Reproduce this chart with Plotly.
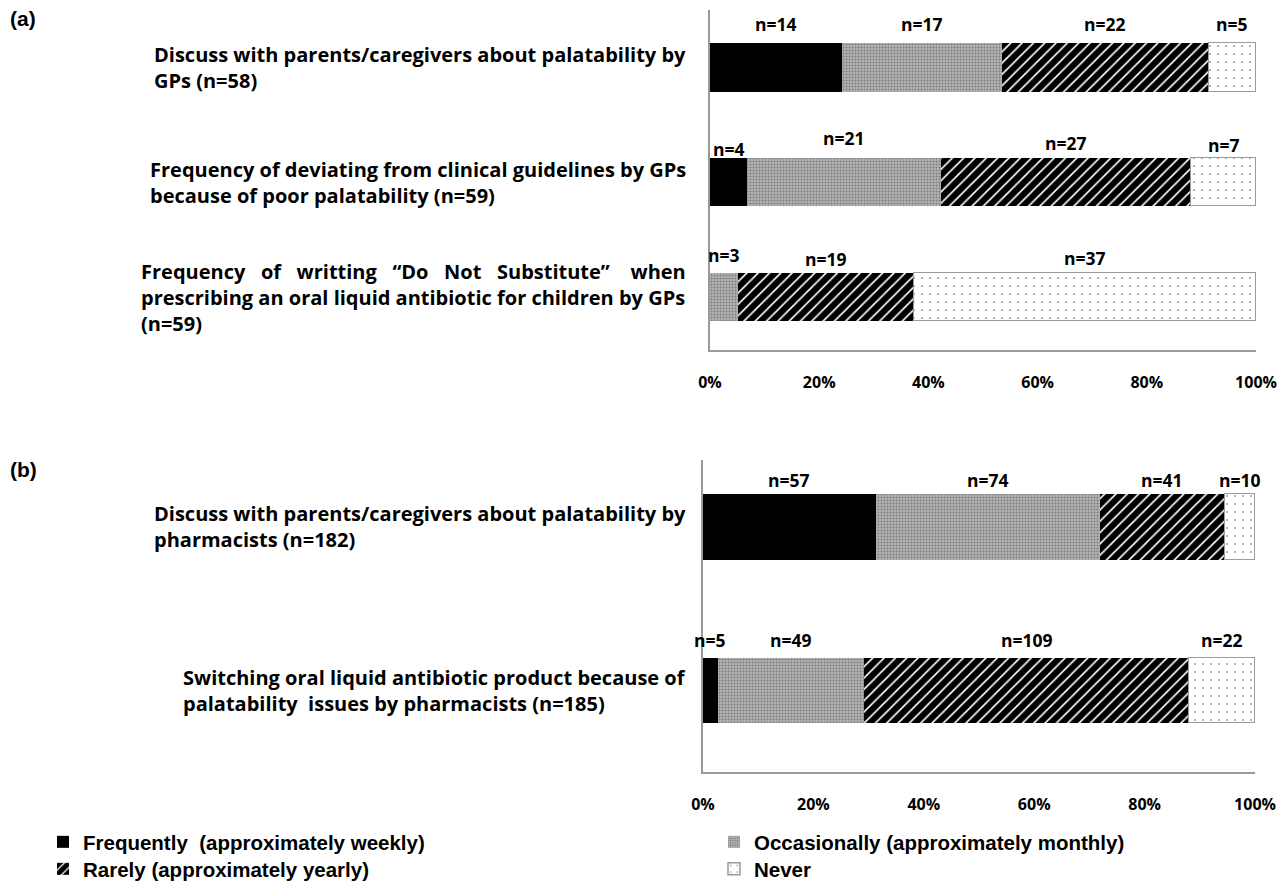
import plotly.graph_objects as go

# ---------------- data ----------------
levels = ["Frequently  (approximately weekly)", "Occasionally (approximately monthly)",
          "Rarely (approximately yearly)", "Never"]

SP = "&nbsp;&nbsp;"
a_items = [
    "Discuss with parents/caregivers about palatability by<br>GPs (n=58)",
    "Frequency of deviating from clinical guidelines by GPs<br>because of poor palatability (n=59)",
    "Frequency " + SP + "of " + SP + "writting " + SP + "“Do " + SP + "Not " + SP + "Substitute” "
    + "&nbsp;" * 3 + "when<br>prescribing an oral liquid antibiotic for children by GPs<br>(n=59)",
]
a_frequently = [14, 4, 0]
a_occasionally = [17, 21, 3]
a_rarely = [22, 27, 19]
a_never = [5, 7, 37]

b_items = [
    "Discuss with parents/caregivers about palatability by<br>pharmacists (n=182)",
    "Switching oral liquid antibiotic product because of<br>palatability&nbsp;&nbsp;issues by pharmacists (n=185)",
]
b_frequently = [57, 5]
b_occasionally = [74, 49]
b_rarely = [41, 109]
b_never = [10, 22]

x_ticks = [0, 20, 40, 60, 80, 100]
x_tick_text = ["0%", "20%", "40%", "60%", "80%", "100%"]

# ---------------- styles ----------------
W, H = 1281, 883
LABEL_FONT = "Open Sans"
LEGEND_FONT = "Liberation Sans"

markers = [
    dict(color="#000000", line=dict(width=0)),
    dict(color="#b0b0b0", line=dict(width=0),
         pattern=dict(shape=".", bgcolor="#b4b4b4", fgcolor="#4a4a4a", size=3, solidity=0.4)),
    dict(color="#000000", line=dict(width=0),
         pattern=dict(shape="/", bgcolor="#ffffff", fgcolor="#000000", fgopacity=1,
                      size=8, solidity=0.8)),
    dict(color="#ffffff", line=dict(width=1.5, color="#9a9a9a"),
         pattern=dict(shape=".", bgcolor="#ffffff", fgcolor="#333333", size=8, solidity=0.05)),
]
# each legend entry gets its own legend box: (legend id, left px, row-centre px)
legend_slots = [("legend", 43, 843), ("legend2", 714, 843), ("legend3", 43, 870), ("legend4", 714, 870)]

# vertical lift (px) of each n= label above its bar top
a_lift = [[19, 19, 19, 19], [9, 20, 15, 13], [0, 18, 14, 15]]
b_lift = [[14, 14, 14, 14], [18, 18, 18, 18]]

fig = go.Figure()
annotations = []

panels = [
    dict(items=a_items, series=[a_frequently, a_occasionally, a_rarely, a_never],
         xa="x", ya="y", lift=a_lift, half=24, width=0.42, show=True),
    dict(items=b_items, series=[b_frequently, b_occasionally, b_rarely, b_never],
         xa="x2", ya="y2", lift=b_lift, half=32.5, width=0.40, show=False),
]

for p in panels:
    totals = [sum(s[i] for s in p["series"]) for i in range(len(p["items"]))]
    pcts = [[v / t * 100 for v, t in zip(s, totals)] for s in p["series"]]
    for k, lev in enumerate(levels):
        fig.add_trace(go.Bar(
            orientation="h", x=pcts[k], y=p["items"], name=lev,
            width=p["width"], marker=markers[k],
            xaxis=p["xa"], yaxis=p["ya"],
            showlegend=p["show"], legend=legend_slots[k][0], hoverinfo="skip",
        ))
    # n= labels
    for i, item in enumerate(p["items"]):
        start = 0.0
        for k in range(4):
            v = p["series"][k][i]
            pc = pcts[k][i]
            if v > 0:
                annotations.append(dict(
                    x=start + pc / 2, y=item, xref=p["xa"], yref=p["ya"],
                    text=f"n={v}", showarrow=False, yanchor="middle",
                    yshift=p["half"] + p["lift"][i][k],
                    font=dict(family=LABEL_FONT, size=17.5, color="black", weight="bold"),
                ))
            start += pc
    # category labels
    for item in p["items"]:
        annotations.append(dict(
            x=688 / W, xref="paper", xanchor="right", align="left",
            y=item, yref=p["ya"], yanchor="middle", text=item, showarrow=False,
            font=dict(family=LABEL_FONT, size=20, color="black", weight="bold"),
        ))

for lab, ypix in (("(a)", 18), ("(b)", 470)):
    annotations.append(dict(x=8 / W, y=1 - ypix / H, xref="paper", yref="paper", xanchor="left",
                            yanchor="middle", text=lab, showarrow=False,
                            font=dict(family=LEGEND_FONT, size=21, color="black", weight="bold")))

xaxis_style = dict(range=[0, 100], tickmode="array", tickvals=x_ticks, ticktext=x_tick_text,
                   showgrid=False, zeroline=False, showline=True, linecolor="#9a9a9a",
                   linewidth=1.5, ticks="", ticklabelstandoff=17, fixedrange=True,
                   automargin=False,
                   tickfont=dict(family=LABEL_FONT, size=16, color="black", weight="bold"))
yaxis_style = dict(type="category", showticklabels=False, showgrid=False, zeroline=False,
                   showline=True, linecolor="#9a9a9a", linewidth=1.5, ticks="", fixedrange=True,
                   automargin=False)

legend_style = dict(orientation="v", xanchor="left", yanchor="top", bgcolor="rgba(0,0,0,0)",
                    traceorder="normal",
                    font=dict(family=LEGEND_FONT, size=20.5, color="black", weight="bold"),
                    tracegroupgap=0, itemclick=False, itemdoubleclick=False)
legends = {lid: dict(x=lx / W, y=1 - (cy - 21) / H, **legend_style) for lid, lx, cy in legend_slots}

fig.update_layout(
    width=W, height=H, margin=dict(l=0, r=0, t=0, b=0, autoexpand=False),
    paper_bgcolor="white", plot_bgcolor="white",
    barmode="stack", bargap=0,
    showlegend=True,
    xaxis=dict(domain=[710 / W, 1256 / W], anchor="y", **xaxis_style),
    yaxis=dict(domain=[1 - 350 / H, 1 - 10 / H], anchor="x", range=[2.46, -0.5], **yaxis_style),
    xaxis2=dict(domain=[703 / W, 1255 / W], anchor="y2", **xaxis_style),
    yaxis2=dict(domain=[1 - 772 / H, 1 - 460 / H], anchor="x2", range=[1.5, -0.41], **yaxis_style),
    annotations=annotations,
    **legends,
)

fig.write_html("out.html", config={"displayModeBar": False},
               post_script="document.body.style.margin='0px';")
